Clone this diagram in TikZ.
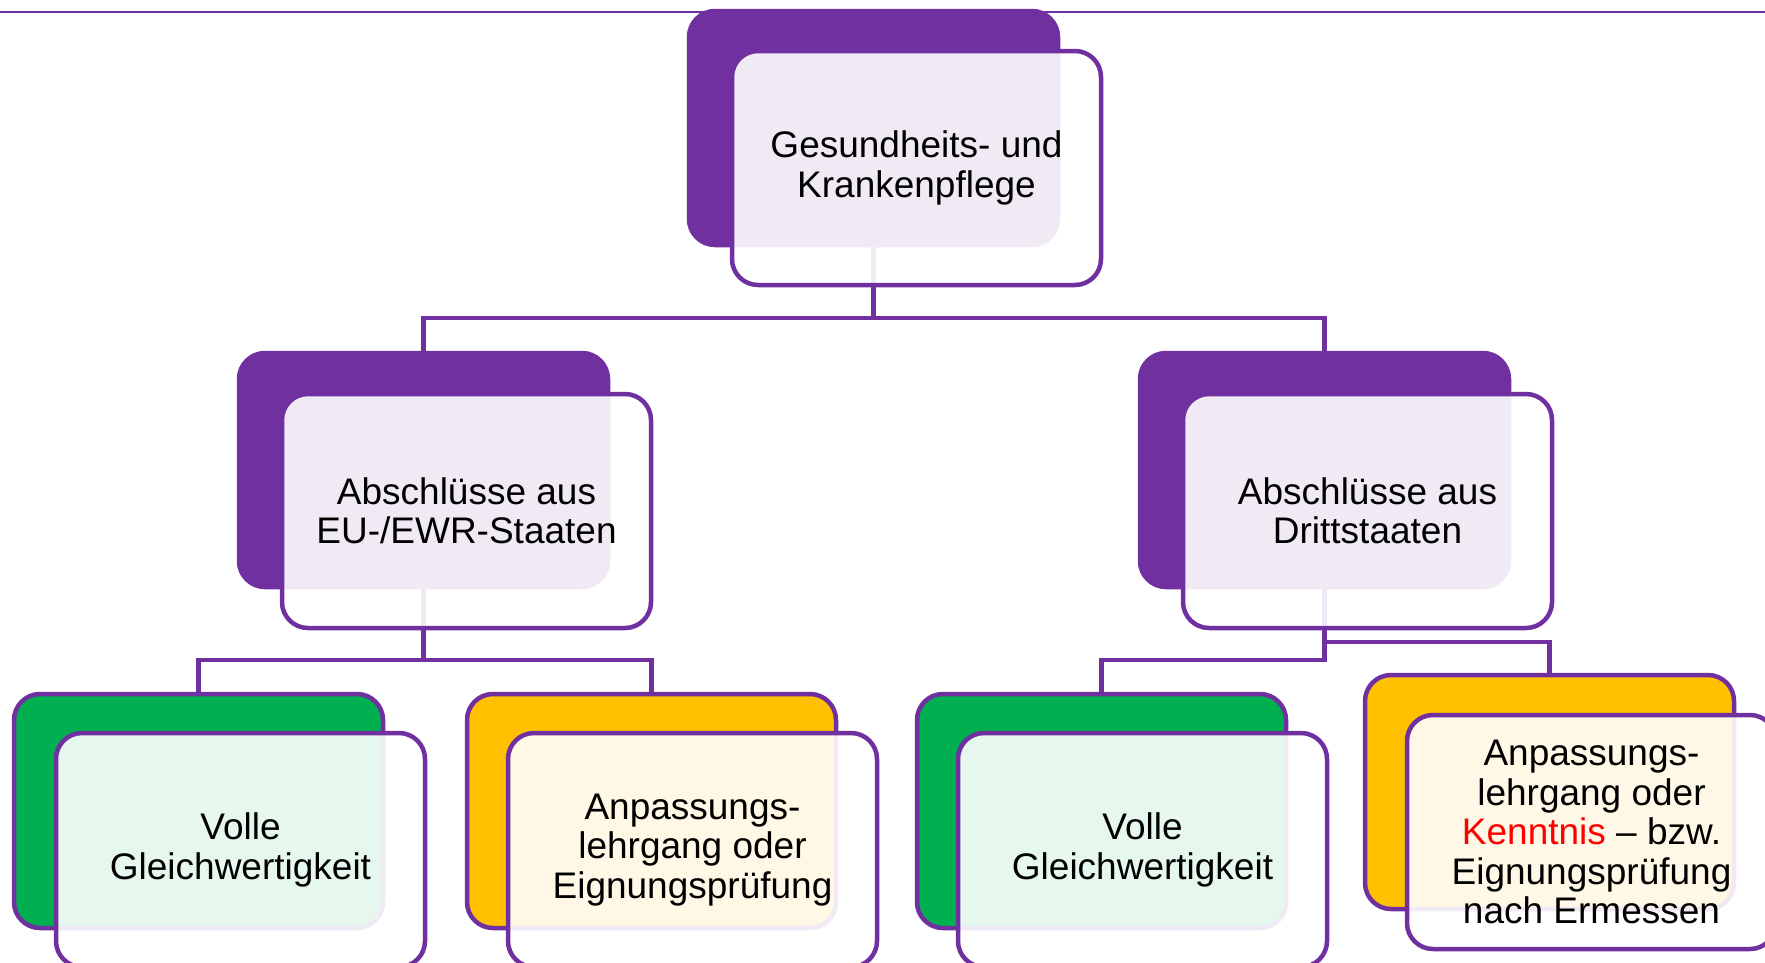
\documentclass[tikz,border=0pt]{standalone}
\usepackage{fontspec}
\setmainfont{Liberation Sans}
\usetikzlibrary{backgrounds}
\definecolor{pur}{HTML}{7030A0}
\definecolor{grn}{HTML}{00B050}
\definecolor{ylw}{HTML}{FFC000}
\tikzset{
  box/.style={rectangle, rounded corners=26pt, minimum width=369pt, minimum height=234pt,
    inner sep=0pt, outer sep=0pt, anchor=north west, line width=4.5pt, draw=pur},
  backP/.style={box, fill=pur},
  backG/.style={box, fill=grn},
  backY/.style={box, fill=ylw},
  front/.style={box, fill=white, fill opacity=0.9, text opacity=1, align=center,
    font=\fontsize{37}{39.5}\selectfont},
  conn/.style={draw=pur, line width=4.5pt},
  topline/.style={draw=pur, line width=2.2pt},
}
\begin{document}
\begin{tikzpicture}[x=1pt, y=-1pt]
\useasboundingbox (0,0) rectangle (1765,962);
\clip (0,0) rectangle (1765,962);
% level 1
\node[backP] (tb) at (689,11) {};
\node[front] (tf) at (732,51) {Gesundheits- und\\Krankenpflege};
% level 2
\node[backP] (lb) at (239,353) {};
\node[front] (lf) at (282,394) {Abschlüsse aus\\EU-/EWR-Staaten};
\node[backP] (rb) at (1140,353) {};
\node[front] (rf) at (1183,394) {Abschlüsse aus\\Drittstaaten};
% level 3
\node[backG] (lgb) at (14,694) {};
\node[front] (lgf) at (56,733) {Volle\\Gleichwertigkeit};
\node[backY] (lyb) at (467,694) {};
\node[front] (lyf) at (508,733) {Anpassungs-\\lehrgang oder\\Eignungsprüfung};
\node[backG] (rgb) at (917,694) {};
\node[front] (rgf) at (958,733) {Volle\\Gleichwertigkeit};
\node[backY] (ryb) at (1365,675) {};
\node[front] (ryf) at (1407,715) {Anpassungs-\\lehrgang oder\\\textcolor{red}{Kenntnis} – bzw.\\Eignungsprüfung\\nach Ermessen};
\begin{pgfonlayer}{background}
\coordinate (tl0) at (0,12);
\coordinate (tl1) at (1765,12);
\draw[topline] (tl0) -- (tl1);
\draw[conn] (tb.south) -- ++(0,73) -| (lb.north);
\draw[conn] (tb.south) ++(0,73) -| (rb.north);
\draw[conn] (lb.south) -- ++(0,73) -| (lgb.north);
\draw[conn] (lb.south) ++(0,73) -| (lyb.north);
\draw[conn] (rb.south) -- ++(0,73) -| (rgb.north);
\draw[conn] (rb.south) -- ++(0,55) -| (ryb.north);
\end{pgfonlayer}
\end{tikzpicture}
\end{document}
